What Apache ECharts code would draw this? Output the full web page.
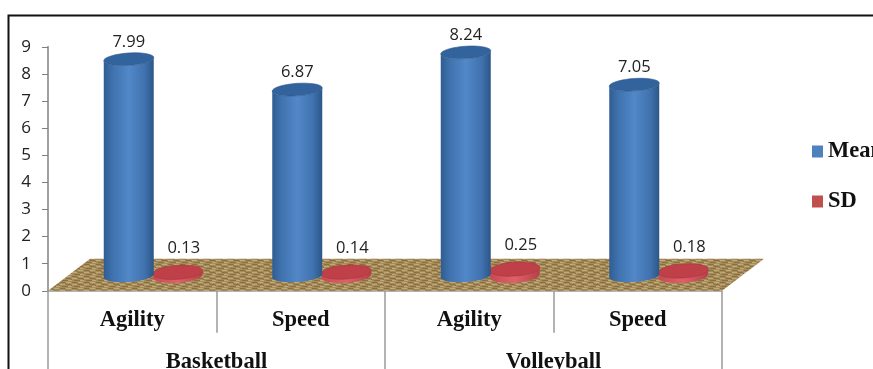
<!DOCTYPE html>
<html>
<head>
<meta charset="utf-8">
<style>html,body{margin:0;padding:0;background:#fff;overflow:hidden}#chart{width:873px;height:369px}</style>
<script src="https://cdn.jsdelivr.net/npm/echarts@6/dist/echarts.min.js"></script>
</head>
<body>
<div id="chart"></div>
<script>
const skills = ['Agility', 'Speed', 'Agility', 'Speed'];
const sports = ['Basketball', 'Volleyball'];
const meanValues = [7.99, 6.87, 8.24, 7.05];
const sdValues = [0.13, 0.14, 0.25, 0.18];

// Woven floor texture, tiled across the plane
function floorTexture() {
  const c = document.createElement('canvas');
  c.width = 12; c.height = 6;
  const g = c.getContext('2d');
  g.fillStyle = '#a78c5b';
  g.fillRect(0, 0, 12, 6);
  g.fillStyle = '#8a7040';
  g.fillRect(0, 0, 5, 1); g.fillRect(6, 2, 5, 1); g.fillRect(2, 4, 6, 1); g.fillRect(5, 1, 1, 1); g.fillRect(11, 3, 1, 1);
  g.fillStyle = '#c0a979';
  g.fillRect(6, 0, 5, 1); g.fillRect(0, 2, 5, 1); g.fillRect(8, 4, 4, 1);
  return c;
}

function ellipsePoints(cx, cy, rx, ry, tilt, from, to) {
  const pts = [];
  const steps = 36;
  for (let i = 0; i <= steps; i++) {
    const a = from + (to - from) * i / steps;
    pts.push([cx + rx * Math.cos(a), cy + ry * Math.sin(a) + tilt * Math.cos(a)]);
  }
  return pts;
}

function hGrad(stops) {
  return {
    type: 'linear', x: 0, y: 0, x2: 1, y2: 0,
    colorStops: stops.map((s) => ({ offset: s[0], color: s[1] }))
  };
}

const DEPTH_X = 42, DEPTH_Y = 32;
const BASE_DY = -15, RX = 25, TILT = -1.6;

function cylinder(shift, ry, side, cap, rim) {
  return function (params, api) {
    const top = api.coord([api.value(0), api.value(1)]);
    const zero = api.coord([api.value(0), 0]);
    const cx = zero[0] + shift;
    const by = zero[1] + BASE_DY;
    const ty = top[1] + BASE_DY;
    const body = ellipsePoints(cx, by, RX, ry, TILT, 0, Math.PI)
      .concat(ellipsePoints(cx, ty, RX, ry, TILT, Math.PI, 0));
    return {
      type: 'group',
      children: [
        { type: 'polygon', shape: { points: body }, style: { fill: side } },
        { type: 'polygon', shape: { points: ellipsePoints(cx, ty, RX, ry, TILT, 0, 2 * Math.PI) }, style: { fill: cap, stroke: rim, lineWidth: 0.6 } }
      ]
    };
  };
}

const chart = echarts.init(document.getElementById('chart'), null, { renderer: 'canvas' });
const fontSans = '"Open Sans", "Noto Sans", sans-serif';
const fontSerif = '"Liberation Serif", serif';

function labelled(values, shift, lift) {
  return {
    type: 'custom',
    silent: true,
    z: 5,
    data: values.map((v, i) => [i, v]),
    encode: { x: 0, y: 1 },
    renderItem: function (params, api) {
      const top = api.coord([api.value(0), api.value(1)]);
      return {
        type: 'text',
        style: {
          x: top[0] + shift, y: top[1] - lift,
          text: api.value(1).toFixed(2),
          fill: '#222', font: '16.5px ' + fontSans, align: 'center', verticalAlign: 'middle'
        }
      };
    }
  };
}

chart.setOption({
  animation: false,
  backgroundColor: '#ffffff',
  graphic: [{
    type: 'rect', z: 0, silent: true,
    shape: { x: 8.5, y: 15.5, width: 900, height: 400 },
    style: { fill: 'none', stroke: '#111', lineWidth: 2 }
  }],
  grid: { left: 48, top: 46.8, width: 674, height: 244, outerBoundsMode: 'none' },
  legend: {
    orient: 'vertical', left: 807, top: 135, itemWidth: 11, itemHeight: 12, itemGap: 27,
    icon: 'rect',
    selectedMode: false,
    textStyle: { fontFamily: fontSerif, fontWeight: 'bold', fontSize: 22.5, color: '#111' },
    data: ['Mean', 'SD']
  },
  xAxis: [{
    type: 'category', data: skills, position: 'bottom',
    axisLine: { lineStyle: { color: '#9a9a9a', width: 1.5 } },
    axisTick: { show: true, length: 42, alignWithLabel: false, lineStyle: { color: '#9a9a9a', width: 1.5 } },
    axisLabel: { margin: 18, fontFamily: fontSerif, fontWeight: 'bold', fontSize: 22.5, color: '#111', interval: 0 }
  }, {
    type: 'category', data: sports, position: 'bottom',
    axisLine: { show: false },
    axisTick: { show: true, length: 90, lineStyle: { color: '#9a9a9a', width: 1.5 } },
    axisLabel: { margin: 60, fontFamily: fontSerif, fontWeight: 'bold', fontSize: 22.5, color: '#111', interval: 0 }
  }],
  yAxis: {
    type: 'value', min: 0, max: 9, interval: 1,
    axisLine: { show: true, lineStyle: { color: '#a0a0a0', width: 2 } },
    axisTick: { show: true, length: 6, lineStyle: { color: '#808080', width: 1 } },
    axisLabel: { margin: 17, fontFamily: fontSans, fontSize: 17, color: '#222' },
    splitLine: { show: false }
  },
  series: [
    {
      type: 'custom', silent: true, z: 1, data: [[0, 0]], encode: { x: 0, y: 1 },
      renderItem: function (params, api) {
        const z = api.coord([0, 0]);
        const step = api.size([1, 0])[0];
        const left = z[0] - step / 2;
        const right = left + step * skills.length;
        return {
          type: 'polygon',
          shape: { points: [[left, z[1]], [right, z[1]], [right + DEPTH_X, z[1] - DEPTH_Y], [left + DEPTH_X, z[1] - DEPTH_Y]] },
          style: { fill: { image: floorTexture(), repeat: 'repeat' } }
        };
      }
    },
    {
      name: 'SD', type: 'custom', silent: true, z: 3,
      itemStyle: { color: '#c0504d' },
      data: sdValues.map((v, i) => [i, v]), encode: { x: 0, y: 1 },
      renderItem: cylinder(45.5, 7,
        hGrad([[0, '#c64a52'], [0.5, '#e0606a'], [1, '#b5404a']]), '#bf4048', '#a83338')
    },
    {
      name: 'Mean', type: 'custom', silent: true, z: 4,
      itemStyle: { color: '#4f81bd' },
      data: meanValues.map((v, i) => [i, v]), encode: { x: 0, y: 1 },
      renderItem: cylinder(-3.5, 6.2,
        hGrad([[0, '#2f5d92'], [0.18, '#3f72ae'], [0.5, '#5288c8'], [0.82, '#3f72ae'], [1, '#2c5688']]), '#33639c', '#2c5688')
    },
    labelled(meanValues, -3.5, 32),
    labelled(sdValues, 51.5, 39)
  ]
});
</script>
</body>
</html>
